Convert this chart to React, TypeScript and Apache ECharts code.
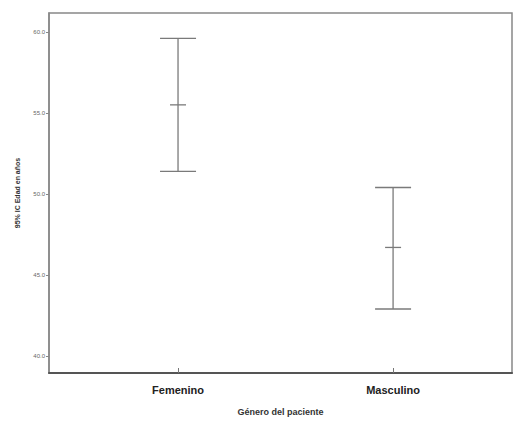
import React, { useEffect, useRef } from "react";
import * as echarts from "echarts";

const categories = ["Femenino", "Masculino"];
const upperCI = [59.6, 50.4];
const means = [55.5, 46.7];
const lowerCI = [51.4, 42.9];
const yTicks = [40, 45, 50, 55, 60];

export default function App() {
  const ref = useRef<HTMLDivElement>(null);
  useEffect(() => {
    const chart = echarts.init(ref.current!, null, { renderer: "svg" });
    const data = categories.map((c, i) => [i + 1, lowerCI[i], means[i], upperCI[i]]);
    chart.setOption({
      animation: false,
      backgroundColor: "#fff",
      grid: {
        left: 49, right: 3, top: 13, bottom: 50,
        show: true, borderColor: "#888", borderWidth: 1.5,
      },
      xAxis: {
        type: "value",
        min: 0.4,
        max: 2.553,
        splitLine: { show: false },
        axisLine: { show: true, lineStyle: { color: "#555", width: 2 } },
        axisTick: { show: true, customValues: [1, 2], length: 5, inside: true, lineStyle: { color: "#777" } },
        axisLabel: {
          customValues: [1, 2],
          formatter: (v: number) => categories[Math.round(v) - 1] ?? "",
          color: "#222", fontSize: 11, fontWeight: "bold", fontFamily: "Liberation Sans", margin: 11,
        },
        name: "Género del paciente",
        nameLocation: "middle",
        nameGap: 34,
        nameTextStyle: { color: "#333", fontSize: 9, fontFamily: "Liberation Sans", fontWeight: "bold" },
      },
      yAxis: {
        type: "value",
        min: 38.95,
        max: 61.17,
        splitLine: { show: false },
        axisLine: { show: true, lineStyle: { color: "#888", width: 1.5 } },
        axisTick: { show: true, customValues: yTicks, length: 3, lineStyle: { color: "#888" } },
        axisLabel: {
          customValues: yTicks,
          formatter: (v: number) => v.toFixed(1),
          color: "#666", fontSize: 6, fontFamily: "Liberation Sans", margin: 4,
        },
        name: "95% IC Edad en años",
        nameLocation: "middle",
        nameGap: 28,
        nameTextStyle: { color: "#333", fontSize: 7, fontFamily: "Liberation Sans", fontWeight: "bold" },
      },
      series: [
        {
          type: "custom",
          data,
          renderItem: (params: any, api: any) => {
            const x = api.value(0);
            const lo = api.coord([x, api.value(1)]);
            const mid = api.coord([x, api.value(2)]);
            const hi = api.coord([x, api.value(3)]);
            const style = { stroke: "#7a7a7a", lineWidth: 1.3 };
            const cap = 18;
            const mcap = 8;
            return {
              type: "group",
              children: [
                { type: "line", shape: { x1: hi[0], y1: hi[1], x2: lo[0], y2: lo[1] }, style },
                { type: "line", shape: { x1: hi[0] - cap, y1: hi[1], x2: hi[0] + cap, y2: hi[1] }, style },
                { type: "line", shape: { x1: lo[0] - cap, y1: lo[1], x2: lo[0] + cap, y2: lo[1] }, style },
                { type: "line", shape: { x1: mid[0] - mcap, y1: mid[1], x2: mid[0] + mcap, y2: mid[1] }, style },
              ],
            };
          },
        },
      ],
    });
    return () => chart.dispose();
  }, []);
  return <div ref={ref} style={{ width: 515, height: 423, position: "absolute", left: 0, top: 0 }} />;
}
